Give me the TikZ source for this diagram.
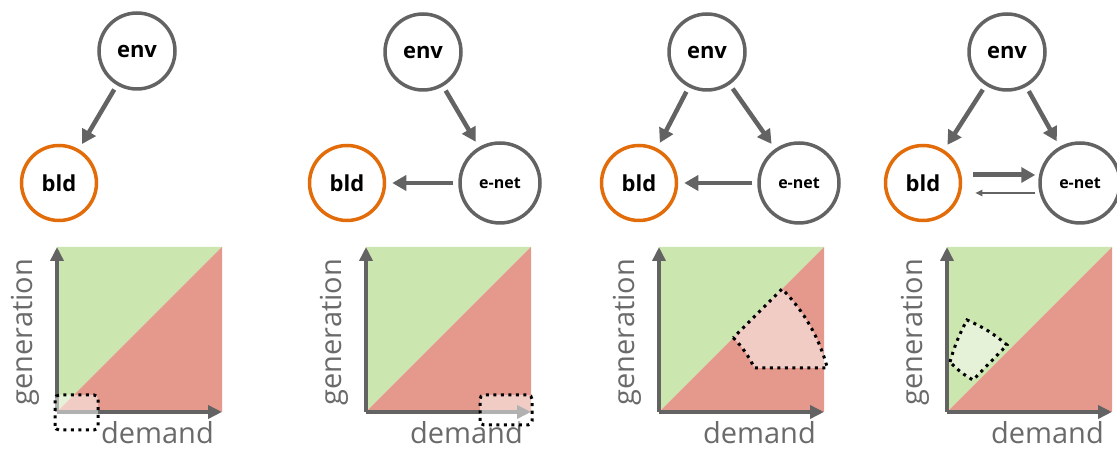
\documentclass[tikz,border=0pt]{standalone}
\usepackage{fontspec}
\setmainfont{Open Sans}
\usetikzlibrary{
    arrows.meta,
    positioning
}
\definecolor{nodegray}{HTML}{636363}
\definecolor{bldorange}{HTML}{E36C0A}
\definecolor{surplusgreen}{HTML}{CCE6B0}
\definecolor{deficitred}{HTML}{E4998C}
\definecolor{labelgray}{HTML}{6A6A6A}

\begin{document}
\begin{tikzpicture}[x=1pt,y=1pt,
    agent/.style={circle,draw=nodegray,line width=3.5pt,minimum size=76pt,inner sep=0pt,
        font=\fontsize{22}{22}\selectfont\bfseries},
    building/.style={agent,draw=bldorange,minimum size=75pt},
    enetnode/.style={agent,minimum size=80pt,font=\fontsize{16}{16}\selectfont\bfseries},
    flow/.style={draw=nodegray,line width=4.5pt,-{Triangle[length=14pt,width=15pt]},
        shorten <=5pt,shorten >=6pt},
    thinflow/.style={draw=nodegray,line width=1.8pt,-{Triangle[length=7pt,width=6pt]}},
    axis/.style={draw=nodegray,line width=3.5pt,-{Triangle[length=14pt,width=13pt]}},
    axlabel/.style={text=labelgray,font=\fontsize{29}{29}\selectfont,inner sep=0pt},
    dotline/.style={draw=black,line width=3pt,dash pattern=on 3pt off 4.5pt,
        fill=white,fill opacity=0.5}
]
    \useasboundingbox (0,0) rectangle (1117,449);

    % the four demand/generation plots
    \foreach \ox [count=\i] in {57,366,659,947} {
        \coordinate (o\i) at (\ox,37);
        \fill[surplusgreen] (o\i) -- ++(0,165) -- ++(165,0) -- cycle;
        \fill[deficitred] (o\i) -- ++(165,0) -- ++(0,165) -- cycle;
        \draw[axis] (o\i) -- ++(0,165);
        \draw[axis] (o\i) -- ++(165,0);
        \node[axlabel,rotate=90] (gen\i) at ([shift={(-32,80)}]o\i) {generation};
        \node[axlabel,anchor=east] (dem\i) at ([shift={(157,-21)}]o\i) {demand};
    }

    % panel 1
    \node[agent] (env1) at (137,398) {env};
    \node[building] (bld1) at (59,266) {bld};
    \draw[flow] (env1) -- (bld1);
    \draw[dotline,rounded corners=4pt] ([shift={(-2,-18)}]o1) rectangle ([shift={(41,17)}]o1);

    % panel 2
    \node[agent] (env2) at (423,397) {env};
    \node[building] (bld2) at (347,266) {bld};
    \node[enetnode] (net2) at (500,266) {e-net};
    \draw[flow] (env2) -- (net2);
    \draw[flow] (net2) -- (bld2);
    \draw[dotline,rounded corners=4pt] ([shift={(114,-13)}]o2) rectangle ([shift={(166,17)}]o2);

    % panel 3
    \node[agent] (env3) at (707,397) {env};
    \node[building] (bld3) at (639,266) {bld};
    \node[enetnode] (net3) at (799,266) {e-net};
    \draw[flow] (env3) -- (bld3);
    \draw[flow] (env3) -- (net3);
    \draw[flow] (net3) -- (bld3);
    \begin{scope}[shift={(o3)}]
        \draw[dotline] (45:105) arc[start angle=45,end angle=24.8,radius=105]
            -- (168.3,44) arc[start angle=14.65,end angle=45,radius=174] -- cycle;
    \end{scope}

    % panel 4
    \node[agent] (env4) at (1007,397) {env};
    \node[building] (bld4) at (923,266) {bld};
    \node[enetnode] (net4) at (1080,266) {e-net};
    \draw[flow] (env4) -- (bld4);
    \draw[flow] (env4) -- (net4);
    \draw[flow,line width=5pt,shorten <=11pt,shorten >=3pt]
        ([yshift=8pt]bld4.east) -- ([yshift=8pt]net4.west);
    \draw[thinflow,shorten <=3pt,shorten >=13pt]
        ([yshift=-10pt]net4.west) -- ([yshift=-10pt]bld4.east);
    \begin{scope}[shift={(o4)}]
        \draw[dotline] (3,50) to[bend left=6] (20,92) to[bend left=8] (60,67)
            -- (26,32) to[bend left=8] (3,50) -- cycle;
    \end{scope}
\end{tikzpicture}
\end{document}
